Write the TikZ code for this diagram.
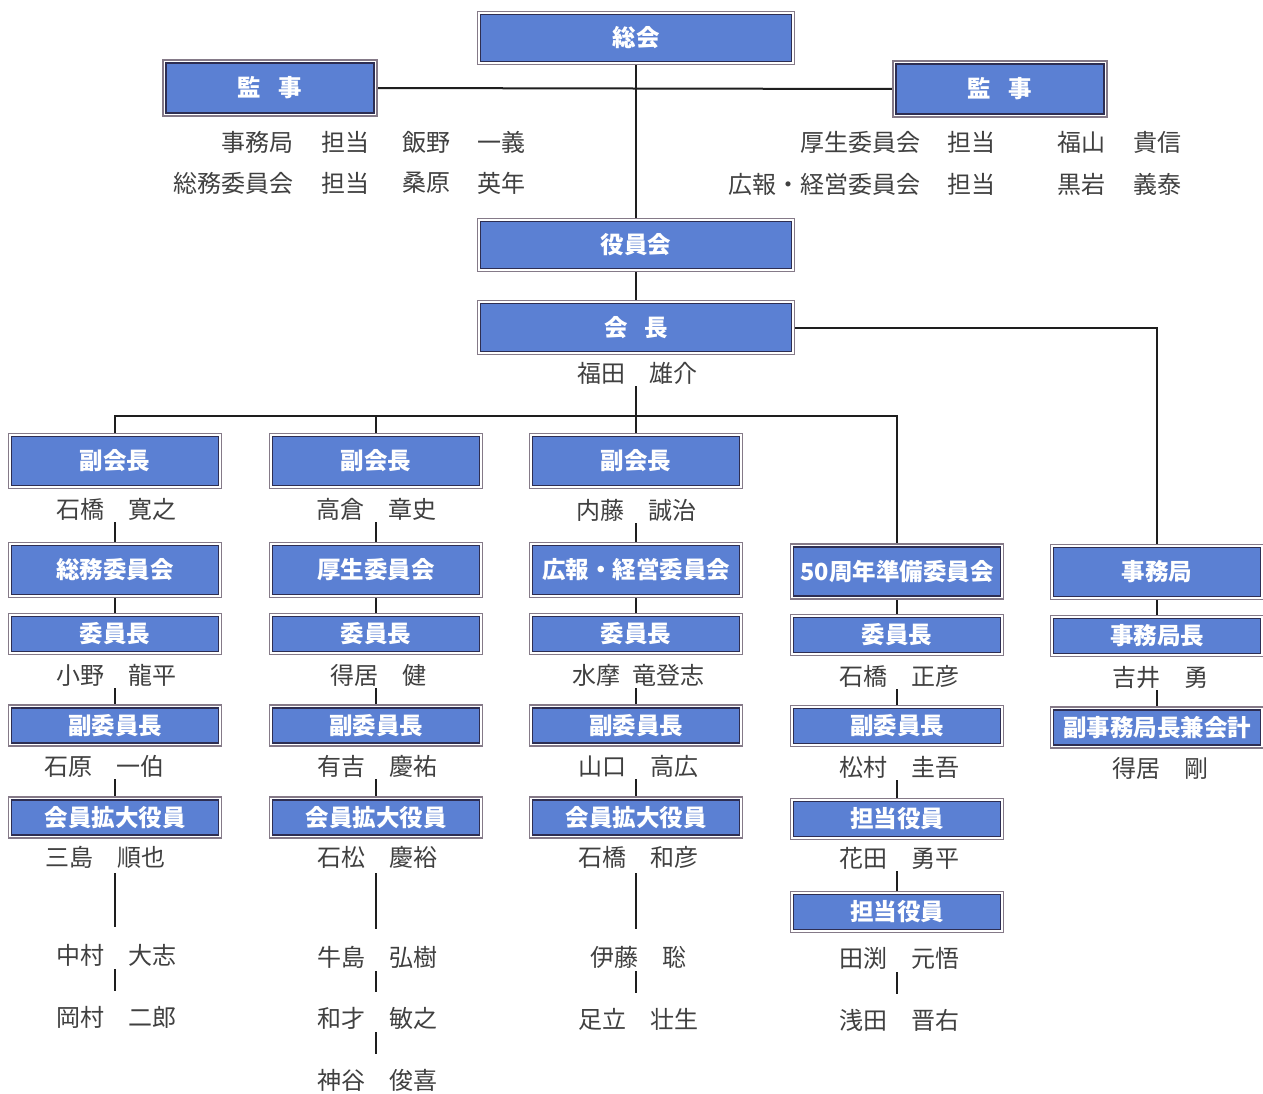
\documentclass[tikz,border=0pt]{standalone}
\usepackage{fontspec}
\setmainfont{Noto Sans CJK JP}
\newfontfamily\jpfont{Noto Sans CJK JP}
\definecolor{boxblue}{HTML}{5B80D3}
\definecolor{boxnavy}{HTML}{2E2E52}
\definecolor{boxgray}{HTML}{857A88}
\definecolor{namegray}{HTML}{404040}
\definecolor{linecol}{HTML}{1E1E1E}
\newcommand{\boxfnt}{\jpfont\bfseries\fontsize{23.5}{26}\selectfont}
\newcommand{\namefnt}{\jpfont\fontsize{24}{26}\selectfont}
\pgfdeclarelayer{bg}
\pgfsetlayers{bg,main}
\begin{document}
\begin{tikzpicture}[x=1pt,y=-1pt,
  frame/.style={draw=boxnavy, line width=1.8pt, fill=boxblue, text=white, font=\boxfnt, inner sep=0pt,
    preaction={draw=boxgray, line width=7.5pt},
    preaction={draw=white, line width=4.6pt}},
  bigbox/.style={frame, minimum width=311, minimum height=47},
  kbox/.style={frame, minimum width=208, minimum height=50},
  vbox/.style={frame, minimum width=207, minimum height=49},
  sbox/.style={frame, minimum width=207, minimum height=35},
  pname/.style={text=namegray, font=\namefnt, inner sep=2pt},
  ptext/.style={text=namegray, font=\namefnt, inner sep=0pt},
  conn/.style={draw=linecol, line width=2pt},
  longc/.style={conn, shorten <=3pt, shorten >=15pt},
  shortc/.style={conn, shorten <=1pt, shorten >=13pt}
]
\useasboundingbox (0,0) rectangle (1263,1093);

% top level
\node[bigbox] (sokai) at (636,38) {総会};
\node[kbox] (kanjiL) at (270,88) {監\hspace{0.75em}事};
\node[kbox] (kanjiR) at (1000,89) {監\hspace{0.75em}事};
\node[bigbox] (yakuin) at (636,245) {役員会};
\node[bigbox, minimum height=48] (kaicho) at (636,327.5) {会\hspace{0.7em}長};
\node[pname] (fukuda) at (637,373) {福田　雄介};

% auditors' lists
\node[ptext, anchor=east] (la1) at (294,142) {事務局};
\node[ptext] (la2) at (345,142) {担当};
\node[ptext] (la3) at (426,142) {飯野};
\node[ptext] (la4) at (501,142) {一義};
\node[ptext, anchor=east] (lb1) at (294,183) {総務委員会};
\node[ptext] (lb2) at (345,183) {担当};
\node[ptext] (lb3) at (426,183) {桑原};
\node[ptext] (lb4) at (501,183) {英年};
\node[ptext, anchor=east] (ra1) at (921,142) {厚生委員会};
\node[ptext] (ra2) at (971,142) {担当};
\node[ptext] (ra3) at (1081,142) {福山};
\node[ptext] (ra4) at (1157,142) {貴信};
\node[ptext, anchor=east] (rb1) at (921,184) {広報・経営委員会};
\node[ptext] (rb2) at (971,184) {担当};
\node[ptext] (rb3) at (1081,184) {黒岩};
\node[ptext] (rb4) at (1157,184) {義泰};

% vice presidents
\node[vbox] (v1) at (115,461) {副会長};
\node[vbox] (v2) at (376,461) {副会長};
\node[vbox] (v3) at (636,461) {副会長};
\node[pname] (v1n) at (116,509) {石橋　寛之};
\node[pname] (v2n) at (376,509) {高倉　章史};
\node[pname] (v3n) at (636,510) {内藤　誠治};

% committees
\node[vbox] (c1) at (115,570) {総務委員会};
\node[vbox] (c2) at (376,570) {厚生委員会};
\node[vbox] (c3) at (636,570) {広報・経営委員会};
\node[vbox] (c4) at (897,571.5) {50周年準備委員会};
\node[vbox] (c5) at (1157,572) {事務局};

% chairs
\node[sbox] (h1) at (115,634) {委員長};
\node[sbox] (h2) at (376,634) {委員長};
\node[sbox] (h3) at (636,634) {委員長};
\node[sbox] (h4) at (897,635) {委員長};
\node[sbox] (h5) at (1157,636) {事務局長};
\node[pname] (h1n) at (116,675) {小野　龍平};
\node[pname] (h2n) at (378,675) {得居　健};
\node[pname] (h3n) at (638,675) {水摩\hspace{0.5em}竜登志};
\node[pname] (h4n) at (899,676) {石橋　正彦};
\node[pname] (h5n) at (1160,677) {吉井　勇};

% vice chairs
\node[sbox] (w1) at (115,725.5) {副委員長};
\node[sbox] (w2) at (376,725.5) {副委員長};
\node[sbox] (w3) at (636,725.5) {副委員長};
\node[sbox] (w4) at (897,726) {副委員長};
\node[sbox] (w5) at (1157,727.5) {副事務局長兼会計};
\node[pname] (w1n) at (104,766) {石原　一伯};
\node[pname] (w2n) at (377,766) {有吉　慶祐};
\node[pname] (w3n) at (638,766) {山口　高広};
\node[pname] (w4n) at (899,767) {松村　圭吾};
\node[pname] (w5n) at (1160,768) {得居　剛};

% member expansion / officers
\node[sbox] (m1) at (115,817.5) {会員拡大役員};
\node[sbox] (m2) at (376,817.5) {会員拡大役員};
\node[sbox] (m3) at (636,817.5) {会員拡大役員};
\node[sbox] (m4) at (897,819) {担当役員};
\node[pname] (m1n) at (105,857) {三島　順也};
\node[pname] (m2n) at (377,857) {石松　慶裕};
\node[pname] (m3n) at (638,857) {石橋　和彦};
\node[pname] (m4n) at (899,858) {花田　勇平};
\node[sbox] (t4) at (897,912) {担当役員};

% lower names
\node[pname] (p1a) at (116,955) {中村　大志};
\node[pname] (p1b) at (116,1017) {岡村　二郎};
\node[pname] (p2a) at (377,957) {牛島　弘樹};
\node[pname] (p2b) at (377,1018) {和才　敏之};
\node[pname] (p2c) at (377,1080) {神谷　俊喜};
\node[pname] (p3a) at (638,957) {伊藤　聡};
\node[pname] (p3b) at (638,1019) {足立　壮生};
\node[pname] (p4a) at (899,958) {田渕　元悟};
\node[pname] (p4b) at (899,1020) {浅田　晋右};

\begin{pgfonlayer}{bg}
\fill[white] (0,0) rectangle (1263,1093);
% connectors: top
\draw[conn] (kanjiL.east) -- (kanjiR.west);
\draw[conn] (sokai.south) -- (yakuin.north);
\draw[conn] (yakuin.south) -- (kaicho.north);
\draw[conn] (kaicho.east) -| (c5.north);
\coordinate (bus) at (636,416);
\draw[conn] (v3.north) -- (v3.north |- fukuda.south);
\draw[conn] (v1.north) |- (c4.north |- bus) -- (c4.north);
\draw[conn] (v2.north) -- (v2.north |- bus);

% column connectors
\foreach \c in {1,2,3}{
  \draw[conn] (c\c.north) -- (c\c.north |- v\c n.south);
  \draw[conn] (c\c.south) -- (h\c.north);
  \draw[conn] (w\c.north) -- (w\c.north |- h\c n.south);
  \draw[conn] (m\c.north) -- (m\c.north |- w\c n.south);
}
\draw[conn] (c4.south) -- (h4.north);
\draw[conn] (w4.north) -- (w4.north |- h4n.south);
\draw[conn] (m4.north) -- (m4.north |- w4n.south);
\draw[conn] (t4.north) -- (t4.north |- m4n.south);
\draw[conn] (c5.south) -- (h5.north);
\draw[conn] (w5.north) -- (w5.north |- h5n.south);

% lower chains
\draw[longc] (m1.south |- m1n.south) -- (m1.south |- p1a.north);
\draw[shortc] (m1.south |- p1a.south) -- (m1.south |- p1b.north);
\draw[longc] (m2.south |- m2n.south) -- (m2.south |- p2a.north);
\draw[shortc] (m2.south |- p2a.south) -- (m2.south |- p2b.north);
\draw[shortc] (m2.south |- p2b.south) -- (m2.south |- p2c.north);
\draw[longc] (m3.south |- m3n.south) -- (m3.south |- p3a.north);
\draw[shortc] (m3.south |- p3a.south) -- (m3.south |- p3b.north);
\draw[shortc] (t4.south |- p4a.south) -- (t4.south |- p4b.north);
\end{pgfonlayer}
\end{tikzpicture}
\end{document}
